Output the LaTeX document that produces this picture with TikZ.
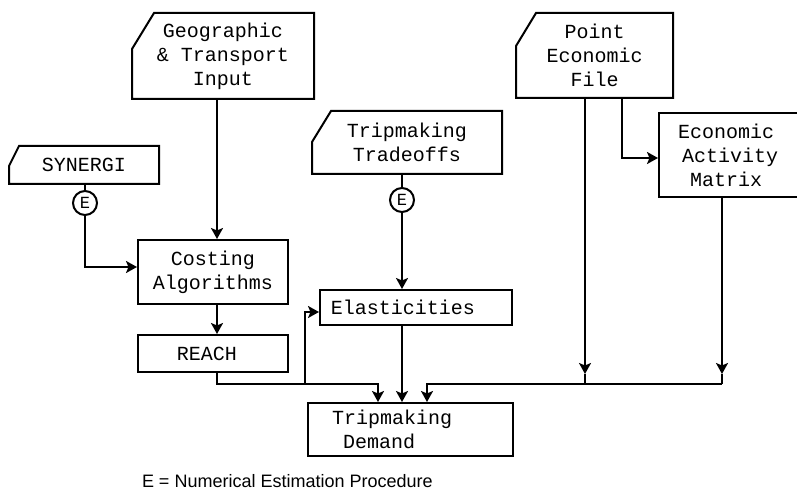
\documentclass[tikz,border=0pt]{standalone}
\usepackage{fontspec}
\setmainfont{Liberation Sans}
\newfontfamily\boxfont{Liberation Mono}
\usetikzlibrary{arrows.meta}
\newcommand\cutout[3]{\draw ([xshift=#2pt]#1.north west) -- (#1.north east) -- (#1.south east) -- (#1.south west) -- ([yshift=-#3pt]#1.north west) -- cycle;}
\begin{document}
\begin{tikzpicture}[x=1pt,y=-1pt,
  line width=2pt,
  box/.style={draw, rectangle, inner sep=0pt, align=center, font=\boxfont\fontsize{20}{24}\selectfont},
  cbox/.style={rectangle, inner sep=0pt, align=center, font=\boxfont\fontsize{20}{24}\selectfont},
  est/.style={draw, circle, minimum size=24pt, inner sep=0pt, fill=white, font=\boxfont\fontsize{17}{20}\selectfont},
  arr/.style={-{Stealth[length=11pt,width=12pt,inset=2.5pt]}},
]
\useasboundingbox (0,0) rectangle (797,494);
\clip (0,0) rectangle (797,494);

% boxes
\node[cbox, minimum width=180pt, minimum height=84pt] (geo) at (223,56) {Geographic\\\& Transport\\Input};
\node[cbox, minimum width=148pt, minimum height=36pt] (syn) at (84,165) {SYNERGI};
\node[est] (e1) at (85,203) {E};
\node[box, minimum width=150pt, minimum height=64pt] (cost) at (213,272) {Costing\\Algorithms};
\node[box, minimum width=150pt, minimum height=37pt] (reach) at (213,353.5) {REACH\hspace*{12pt}};
\node[cbox, minimum width=188pt, minimum height=61pt] (tt) at (407,142.5) {Tripmaking\\Tradeoffs};
\node[est] (e2) at (402,200) {E};
\node[box, minimum width=192pt, minimum height=35pt] (el) at (416,307.5) {Elasticities\hspace*{26pt}};
\node[box, minimum width=205pt, minimum height=53pt] (dem) at (410.5,429.5) {\makebox[157pt][l]{Tripmaking}\\\makebox[157pt][l]{\hspace*{11pt}Demand}};
\node[cbox, minimum width=155pt, minimum height=83pt] (pef) at (594.5,55.5) {Point\\Economic\\File};
\node[box, minimum width=142pt, minimum height=84pt] (eam) at (730,155) {Economic\hspace*{8pt}\\Activity\hspace*{8pt}\\Matrix\hspace*{8pt}};
\node[anchor=base west, font=\fontsize{18}{22}\selectfont, inner sep=0pt] (cap) at (141,487) {E = Numerical Estimation Procedure};

\cutout{geo}{22}{36}
\cutout{syn}{10}{20}
\cutout{tt}{19}{31}
\cutout{pef}{20}{33}

% helper coordinates
\coordinate (x217) at (217,0);
\coordinate (x378) at (378,0);
\coordinate (x427) at (427,0);
\coordinate (x622) at (622,0);
\coordinate (j0) at (305,384);
\coordinate (t1) at (585,374);
\coordinate (j1) at (585,384);
\coordinate (t2) at (722,374);
\coordinate (j2) at (722,384);

% connectors
\draw[arr] (geo.south -| x217) -- (cost.north -| x217);
\draw (syn.south -| e1.north) -- (e1.north);
\draw[arr] (e1.south) |- ([yshift=5pt]cost.west);
\draw[arr] (cost.south -| x217) -- (reach.north -| x217);
\draw[arr] (reach.south -| x217) |- (j0) -| (dem.north -| x378);
\draw[arr] (j0) |- ([yshift=-4.5pt]el.west);
\draw (tt.south -| e2.north) -- (e2.north);
\draw[arr] (e2.south) -- (el.north -| e2.south);
\draw[arr] (el.south -| e2.south) -- (dem.north -| e2.south);
\draw[arr] (pef.south -| t1) -- (t1);
\draw (t1) -- (j1);
\draw[arr] (pef.south -| x622) |- ([yshift=-3pt]eam.west);
\draw[arr] (eam.south -| t2) -- (t2);
\draw (t2) -- (j2);
\draw[arr] (j2) -- (j1) -| (dem.north -| x427);
\end{tikzpicture}
\end{document}
